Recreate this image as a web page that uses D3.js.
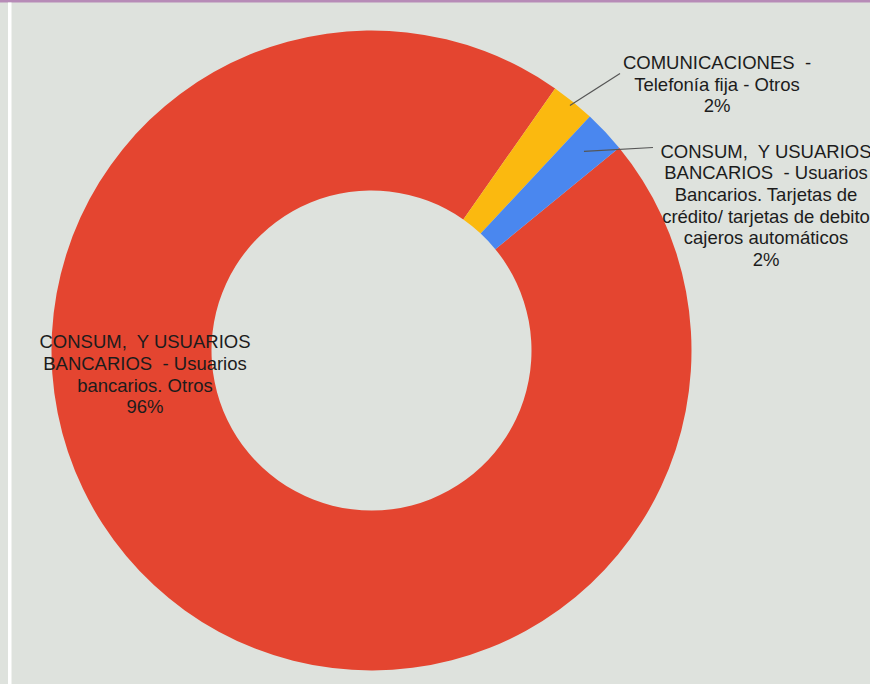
<!DOCTYPE html>
<html>
<head>
<meta charset="utf-8">
<script src="https://cdn.jsdelivr.net/npm/d3@7"></script>
<style>
  html, body { margin: 0; padding: 0; background: #dee2dd; overflow: hidden; }
  svg { display: block; }
  text { font-family: "Liberation Sans", Arial, sans-serif; fill: #1c1c1c; white-space: pre; }
</style>
</head>
<body>
<svg id="chart" width="870" height="684"></svg>
<script>
// Complaint categories and counts
const categories = [
  "CONSUM, Y USUARIOS BANCARIOS - Usuarios bancarios. Otros",
  "COMUNICACIONES - Telefonía fija - Otros",
  "CONSUM, Y USUARIOS BANCARIOS - Usuarios Bancarios. Tarjetas de crédito/ tarjetas de debito cajeros automáticos"
];
const values = [1076, 25, 24];
const colors = ["#e44530", "#fbb90f", "#4a87ef"];
// Label text, one entry per line
const labelLines = [
  ["CONSUM,  Y USUARIOS", "BANCARIOS  - Usuarios", "bancarios. Otros"],
  ["COMUNICACIONES  -", "Telefonía fija - Otros"],
  ["CONSUM,  Y USUARIOS", "BANCARIOS  - Usuarios", "Bancarios. Tarjetas de", "crédito/ tarjetas de debito", "cajeros automáticos"]
];

const W = 870, H = 684;
const cx = 371.5, cy = 350.5;
const outerR = 320, innerR = 160;
const startDeg = 50.7;
const lineH = 21.7;

const svg = d3.select("#chart");

// frame decorations
svg.append("rect").attr("x", 0).attr("y", 0).attr("width", W).attr("height", H).attr("fill", "#dee2dd");
svg.append("rect").attr("x", 0).attr("y", 0).attr("width", W).attr("height", 2.5).attr("fill", "#b78bb7");
svg.append("rect").attr("x", 8).attr("y", 2.5).attr("width", 3.5).attr("height", H).attr("fill", "#ffffff");

const total = d3.sum(values);
const data = categories.map((c, i) => ({ name: c, value: values[i], color: colors[i], lines: labelLines[i] }));

const start = startDeg * Math.PI / 180;
const pie = d3.pie().sort(null).value(d => d.value).startAngle(start).endAngle(start + 2 * Math.PI);
const arcs = pie(data);
const arc = d3.arc().innerRadius(innerR).outerRadius(outerR);

const g = svg.append("g").attr("transform", `translate(${cx},${cy})`);
g.selectAll("path.slice").data(arcs).join("path")
  .attr("class", "slice")
  .attr("d", arc)
  .attr("fill", d => d.data.color);

// Label placement: centre x, first baseline, and optional leader line
// leader: fraction across the ring where the line starts, and the line end point
const labelLayout = [
  { x: 145, y: 348.3, leader: null },
  { x: 717, y: 69, leader: { r: 0.97, end: [620, 73.5] } },
  { x: 766, y: 157.5, leader: { r: 0.82, end: [653, 147.5] } }
];

arcs.forEach((a, i) => {
  const L = labelLayout[i];
  const pct = Math.round(a.data.value / total * 100) + "%";
  const lines = a.data.lines.concat([pct]);
  if (L.leader) {
    const mid = (a.startAngle + a.endAngle) / 2;
    const rr = innerR + (outerR - innerR) * L.leader.r;
    const x0 = cx + rr * Math.sin(mid), y0 = cy - rr * Math.cos(mid);
    svg.append("line")
      .attr("x1", x0).attr("y1", y0)
      .attr("x2", L.leader.end[0]).attr("y2", L.leader.end[1])
      .attr("stroke", "#555").attr("stroke-width", 1.2);
  }
  const t = svg.append("text")
    .attr("text-anchor", "middle")
    .attr("font-size", "18.5px");
  lines.forEach((ln, j) => {
    t.append("tspan").attr("x", L.x).attr("y", L.y + j * lineH).text(ln);
  });
});
</script>
</body>
</html>
